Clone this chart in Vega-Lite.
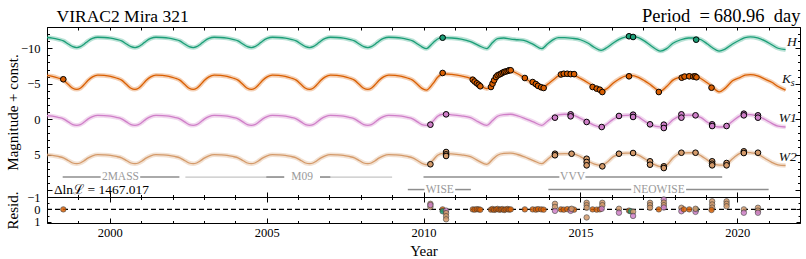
{
  "$schema": "https://vega.github.io/schema/vega-lite/v6.json",
  "padding": {"left": 4, "top": 5, "right": 7, "bottom": 5},
  "bounds": "flush",
  "spacing": 0,
  "config": {
    "font": "Liberation Serif",
    "view": {"stroke": "black", "strokeWidth": 1},
    "axis": {"domain": false, "grid": false, "tickColor": "black", "labelColor": "black", "titleColor": "black", "labelFont": "Liberation Serif", "titleFont": "Liberation Serif", "labelFontSize": 12.5, "titleFontSize": 15, "titleFontWeight": "normal", "tickWidth": 1, "labelOverlap": false},
    "text": {"font": "Liberation Serif"}
  },
  "datasets": {
    "curve": [
      {"t":1998.0,"H":-11.52,"Ks":-6.16,"W1":-0.49,"W2":5.06},
      {"t":1998.171,"H":-11.43,"Ks":-6.04,"W1":-0.41,"W2":5.13},
      {"t":1998.356,"H":-11.26,"Ks":-5.8,"W1":-0.24,"W2":5.28},
      {"t":1998.523,"H":-11.04,"Ks":-5.5,"W1":-0.03,"W2":5.47},
      {"t":1998.69,"H":-10.56,"Ks":-4.84,"W1":0.43,"W2":5.89},
      {"t":1998.82,"H":-10.22,"Ks":-4.36,"W1":0.77,"W2":6.2},
      {"t":1998.95,"H":-10.1,"Ks":-4.2,"W1":0.88,"W2":6.3},
      {"t":1999.061,"H":-10.22,"Ks":-4.36,"W1":0.77,"W2":6.2},
      {"t":1999.173,"H":-10.54,"Ks":-4.8,"W1":0.46,"W2":5.92},
      {"t":1999.302,"H":-11.0,"Ks":-5.44,"W1":0.01,"W2":5.51},
      {"t":1999.451,"H":-11.38,"Ks":-5.96,"W1":-0.35,"W2":5.18},
      {"t":1999.618,"H":-11.55,"Ks":-6.2,"W1":-0.52,"W2":5.03},
      {"t":1999.822,"H":-11.52,"Ks":-6.16,"W1":-0.49,"W2":5.06},
      {"t":2000.026,"H":-11.43,"Ks":-6.04,"W1":-0.41,"W2":5.13},
      {"t":2000.211,"H":-11.26,"Ks":-5.8,"W1":-0.24,"W2":5.28},
      {"t":2000.378,"H":-11.04,"Ks":-5.5,"W1":-0.03,"W2":5.47},
      {"t":2000.545,"H":-10.56,"Ks":-4.84,"W1":0.43,"W2":5.89},
      {"t":2000.675,"H":-10.22,"Ks":-4.36,"W1":0.77,"W2":6.2},
      {"t":2000.805,"H":-10.1,"Ks":-4.2,"W1":0.88,"W2":6.3},
      {"t":2000.916,"H":-10.22,"Ks":-4.36,"W1":0.77,"W2":6.2},
      {"t":2001.028,"H":-10.54,"Ks":-4.8,"W1":0.46,"W2":5.92},
      {"t":2001.157,"H":-11.0,"Ks":-5.44,"W1":0.01,"W2":5.51},
      {"t":2001.306,"H":-11.38,"Ks":-5.96,"W1":-0.35,"W2":5.18},
      {"t":2001.473,"H":-11.55,"Ks":-6.2,"W1":-0.52,"W2":5.03},
      {"t":2001.677,"H":-11.52,"Ks":-6.16,"W1":-0.49,"W2":5.06},
      {"t":2001.881,"H":-11.43,"Ks":-6.04,"W1":-0.41,"W2":5.13},
      {"t":2002.066,"H":-11.26,"Ks":-5.8,"W1":-0.24,"W2":5.28},
      {"t":2002.233,"H":-11.04,"Ks":-5.5,"W1":-0.03,"W2":5.47},
      {"t":2002.4,"H":-10.56,"Ks":-4.84,"W1":0.43,"W2":5.89},
      {"t":2002.53,"H":-10.22,"Ks":-4.36,"W1":0.77,"W2":6.2},
      {"t":2002.66,"H":-10.1,"Ks":-4.2,"W1":0.88,"W2":6.3},
      {"t":2002.771,"H":-10.22,"Ks":-4.36,"W1":0.77,"W2":6.2},
      {"t":2002.883,"H":-10.54,"Ks":-4.8,"W1":0.46,"W2":5.92},
      {"t":2003.012,"H":-11.0,"Ks":-5.44,"W1":0.01,"W2":5.51},
      {"t":2003.161,"H":-11.38,"Ks":-5.96,"W1":-0.35,"W2":5.18},
      {"t":2003.328,"H":-11.55,"Ks":-6.2,"W1":-0.52,"W2":5.03},
      {"t":2003.532,"H":-11.52,"Ks":-6.16,"W1":-0.49,"W2":5.06},
      {"t":2003.736,"H":-11.43,"Ks":-6.04,"W1":-0.41,"W2":5.13},
      {"t":2003.921,"H":-11.26,"Ks":-5.8,"W1":-0.24,"W2":5.28},
      {"t":2004.088,"H":-11.04,"Ks":-5.5,"W1":-0.03,"W2":5.47},
      {"t":2004.255,"H":-10.56,"Ks":-4.84,"W1":0.43,"W2":5.89},
      {"t":2004.385,"H":-10.22,"Ks":-4.36,"W1":0.77,"W2":6.2},
      {"t":2004.515,"H":-10.1,"Ks":-4.2,"W1":0.88,"W2":6.3},
      {"t":2004.626,"H":-10.22,"Ks":-4.36,"W1":0.77,"W2":6.2},
      {"t":2004.738,"H":-10.54,"Ks":-4.8,"W1":0.46,"W2":5.92},
      {"t":2004.867,"H":-11.0,"Ks":-5.44,"W1":0.01,"W2":5.51},
      {"t":2005.016,"H":-11.38,"Ks":-5.96,"W1":-0.35,"W2":5.18},
      {"t":2005.183,"H":-11.55,"Ks":-6.2,"W1":-0.52,"W2":5.03},
      {"t":2005.387,"H":-11.52,"Ks":-6.16,"W1":-0.49,"W2":5.06},
      {"t":2005.591,"H":-11.43,"Ks":-6.04,"W1":-0.41,"W2":5.13},
      {"t":2005.776,"H":-11.26,"Ks":-5.8,"W1":-0.24,"W2":5.28},
      {"t":2005.943,"H":-11.04,"Ks":-5.5,"W1":-0.03,"W2":5.47},
      {"t":2006.11,"H":-10.56,"Ks":-4.84,"W1":0.43,"W2":5.89},
      {"t":2006.24,"H":-10.22,"Ks":-4.36,"W1":0.77,"W2":6.2},
      {"t":2006.37,"H":-10.1,"Ks":-4.2,"W1":0.88,"W2":6.3},
      {"t":2006.481,"H":-10.22,"Ks":-4.36,"W1":0.77,"W2":6.2},
      {"t":2006.593,"H":-10.54,"Ks":-4.8,"W1":0.46,"W2":5.92},
      {"t":2006.722,"H":-11.0,"Ks":-5.44,"W1":0.01,"W2":5.51},
      {"t":2006.871,"H":-11.38,"Ks":-5.96,"W1":-0.35,"W2":5.18},
      {"t":2007.038,"H":-11.55,"Ks":-6.2,"W1":-0.52,"W2":5.03},
      {"t":2007.242,"H":-11.52,"Ks":-6.16,"W1":-0.49,"W2":5.06},
      {"t":2007.446,"H":-11.43,"Ks":-6.04,"W1":-0.41,"W2":5.13},
      {"t":2007.631,"H":-11.26,"Ks":-5.8,"W1":-0.24,"W2":5.28},
      {"t":2007.798,"H":-11.04,"Ks":-5.5,"W1":-0.03,"W2":5.47},
      {"t":2007.965,"H":-10.56,"Ks":-4.84,"W1":0.43,"W2":5.89},
      {"t":2008.095,"H":-10.22,"Ks":-4.36,"W1":0.77,"W2":6.2},
      {"t":2008.225,"H":-10.1,"Ks":-4.2,"W1":0.88,"W2":6.3},
      {"t":2008.336,"H":-10.22,"Ks":-4.36,"W1":0.77,"W2":6.2},
      {"t":2008.448,"H":-10.54,"Ks":-4.8,"W1":0.46,"W2":5.92},
      {"t":2008.577,"H":-11.0,"Ks":-5.44,"W1":0.01,"W2":5.51},
      {"t":2008.726,"H":-11.38,"Ks":-5.96,"W1":-0.35,"W2":5.18},
      {"t":2008.893,"H":-11.55,"Ks":-6.2,"W1":-0.52,"W2":5.03},
      {"t":2009.097,"H":-11.52,"Ks":-6.16,"W1":-0.49,"W2":5.06},
      {"t":2009.301,"H":-11.43,"Ks":-6.04,"W1":-0.41,"W2":5.13},
      {"t":2009.486,"H":-11.26,"Ks":-5.8,"W1":-0.24,"W2":5.28},
      {"t":2009.653,"H":-11.04,"Ks":-5.5,"W1":-0.03,"W2":5.47},
      {"t":2009.82,"H":-10.56,"Ks":-4.84,"W1":0.43,"W2":5.89},
      {"t":2009.95,"H":-10.2,"Ks":-4.34,"W1":0.77,"W2":6.25},
      {"t":2010.09,"H":-9.95,"Ks":-4.1,"W1":0.88,"W2":6.45},
      {"t":2010.3,"H":-10.75,"Ks":-5.0,"W1":0.3,"W2":5.8},
      {"t":2010.45,"H":-11.3,"Ks":-5.9,"W1":-0.4,"W2":5.1},
      {"t":2010.62,"H":-11.5,"Ks":-6.4,"W1":-0.68,"W2":4.85},
      {"t":2010.9,"H":-11.45,"Ks":-6.3,"W1":-0.6,"W2":4.9},
      {"t":2011.2,"H":-11.3,"Ks":-6.1,"W1":-0.45,"W2":5.05},
      {"t":2011.5,"H":-10.95,"Ks":-5.75,"W1":-0.2,"W2":5.3},
      {"t":2011.75,"H":-10.4,"Ks":-5.0,"W1":0.4,"W2":5.9},
      {"t":2012.02,"H":-9.95,"Ks":-4.3,"W1":0.88,"W2":6.4},
      {"t":2012.2,"H":-10.8,"Ks":-4.9,"W1":0.2,"W2":5.7},
      {"t":2012.36,"H":-11.35,"Ks":-5.95,"W1":-0.4,"W2":5.1},
      {"t":2012.56,"H":-11.45,"Ks":-6.5,"W1":-0.62,"W2":4.85},
      {"t":2012.78,"H":-11.3,"Ks":-6.8,"W1":-0.68,"W2":4.8},
      {"t":2013.0,"H":-11.2,"Ks":-6.4,"W1":-0.45,"W2":5.0},
      {"t":2013.2,"H":-11.1,"Ks":-5.85,"W1":-0.15,"W2":5.3},
      {"t":2013.5,"H":-10.55,"Ks":-5.0,"W1":0.4,"W2":5.85},
      {"t":2013.77,"H":-9.95,"Ks":-4.3,"W1":0.88,"W2":6.3},
      {"t":2013.95,"H":-10.6,"Ks":-4.9,"W1":0.3,"W2":5.7},
      {"t":2014.15,"H":-11.25,"Ks":-5.6,"W1":-0.35,"W2":5.05},
      {"t":2014.3,"H":-11.5,"Ks":-6.1,"W1":-0.6,"W2":4.9},
      {"t":2014.5,"H":-11.5,"Ks":-6.3,"W1":-0.68,"W2":4.88},
      {"t":2014.75,"H":-11.4,"Ks":-6.25,"W1":-0.6,"W2":4.9},
      {"t":2015.0,"H":-11.2,"Ks":-5.75,"W1":-0.1,"W2":5.3},
      {"t":2015.25,"H":-10.7,"Ks":-5.1,"W1":0.45,"W2":5.95},
      {"t":2015.45,"H":-10.1,"Ks":-4.5,"W1":0.9,"W2":6.35},
      {"t":2015.66,"H":-9.7,"Ks":-3.96,"W1":1.12,"W2":6.55},
      {"t":2015.85,"H":-10.1,"Ks":-4.3,"W1":0.7,"W2":6.1},
      {"t":2016.05,"H":-10.75,"Ks":-5.1,"W1":0.0,"W2":5.3},
      {"t":2016.25,"H":-11.3,"Ks":-5.7,"W1":-0.4,"W2":4.95},
      {"t":2016.45,"H":-11.6,"Ks":-6.1,"W1":-0.53,"W2":4.82},
      {"t":2016.62,"H":-11.69,"Ks":-6.18,"W1":-0.55,"W2":4.8},
      {"t":2016.85,"H":-11.5,"Ks":-5.9,"W1":-0.3,"W2":5.1},
      {"t":2017.05,"H":-11.0,"Ks":-5.4,"W1":0.3,"W2":5.6},
      {"t":2017.25,"H":-10.35,"Ks":-4.8,"W1":0.8,"W2":6.15},
      {"t":2017.55,"H":-9.6,"Ks":-3.96,"W1":1.1,"W2":6.7},
      {"t":2017.75,"H":-9.95,"Ks":-4.6,"W1":0.9,"W2":6.5},
      {"t":2017.95,"H":-10.7,"Ks":-5.5,"W1":0.1,"W2":5.5},
      {"t":2018.2,"H":-11.2,"Ks":-5.95,"W1":-0.45,"W2":4.8},
      {"t":2018.45,"H":-11.45,"Ks":-6.18,"W1":-0.55,"W2":4.75},
      {"t":2018.62,"H":-11.45,"Ks":-6.15,"W1":-0.53,"W2":4.75},
      {"t":2018.85,"H":-11.2,"Ks":-5.7,"W1":-0.2,"W2":5.2},
      {"t":2019.05,"H":-10.6,"Ks":-5.1,"W1":0.45,"W2":5.8},
      {"t":2019.2,"H":-10.1,"Ks":-4.6,"W1":0.85,"W2":6.2},
      {"t":2019.42,"H":-9.6,"Ks":-3.85,"W1":1.12,"W2":6.5},
      {"t":2019.6,"H":-9.85,"Ks":-4.3,"W1":1.05,"W2":6.5},
      {"t":2019.85,"H":-10.6,"Ks":-5.4,"W1":0.3,"W2":5.6},
      {"t":2020.1,"H":-11.2,"Ks":-5.9,"W1":-0.5,"W2":4.8},
      {"t":2020.25,"H":-11.5,"Ks":-6.2,"W1":-0.65,"W2":4.7},
      {"t":2020.42,"H":-11.6,"Ks":-6.27,"W1":-0.62,"W2":4.75},
      {"t":2020.65,"H":-11.45,"Ks":-6.1,"W1":-0.4,"W2":4.95},
      {"t":2020.9,"H":-11.0,"Ks":-5.6,"W1":0.1,"W2":5.6},
      {"t":2021.1,"H":-10.5,"Ks":-5.2,"W1":0.6,"W2":6.1},
      {"t":2021.3,"H":-10.0,"Ks":-4.6,"W1":1.0,"W2":6.45},
      {"t":2021.54,"H":-9.8,"Ks":-4.1,"W1":1.12,"W2":6.55}
    ],
    "obs": [
      {"band":"Ks","t":1998.52,"mag":-5.62},
      {"band":"Ks","t":2010.61,"mag":-6.51},
      {"band":"Ks","t":2011.57,"mag":-5.56},{"band":"Ks","t":2011.63,"mag":-5.3},{"band":"Ks","t":2011.7,"mag":-5.05},{"band":"Ks","t":2011.76,"mag":-4.85},{"band":"Ks","t":2011.81,"mag":-4.63},
      {"band":"Ks","t":2012.15,"mag":-4.53},{"band":"Ks","t":2012.2,"mag":-5.0},{"band":"Ks","t":2012.25,"mag":-5.47},{"band":"Ks","t":2012.31,"mag":-5.94},{"band":"Ks","t":2012.36,"mag":-6.18},{"band":"Ks","t":2012.42,"mag":-6.3},{"band":"Ks","t":2012.47,"mag":-6.41},{"band":"Ks","t":2012.52,"mag":-6.55},{"band":"Ks","t":2012.57,"mag":-6.65},{"band":"Ks","t":2012.62,"mag":-6.72},{"band":"Ks","t":2012.68,"mag":-6.79},{"band":"Ks","t":2012.73,"mag":-6.89},{"band":"Ks","t":2012.78,"mag":-6.89},
      {"band":"Ks","t":2013.23,"mag":-5.8},
      {"band":"Ks","t":2013.48,"mag":-5.23},{"band":"Ks","t":2013.58,"mag":-4.95},{"band":"Ks","t":2013.65,"mag":-4.7},{"band":"Ks","t":2013.75,"mag":-4.5},{"band":"Ks","t":2013.83,"mag":-4.39},
      {"band":"Ks","t":2014.38,"mag":-6.3},{"band":"Ks","t":2014.47,"mag":-6.4},{"band":"Ks","t":2014.58,"mag":-6.4},{"band":"Ks","t":2014.69,"mag":-6.35},{"band":"Ks","t":2014.8,"mag":-6.35},
      {"band":"Ks","t":2015.39,"mag":-4.53},{"band":"Ks","t":2015.52,"mag":-4.3},{"band":"Ks","t":2015.62,"mag":-4.15},{"band":"Ks","t":2015.7,"mag":-3.82},
      {"band":"Ks","t":2016.55,"mag":-6.04},
      {"band":"Ks","t":2017.5,"mag":-3.82},
      {"band":"Ks","t":2018.23,"mag":-5.84},{"band":"Ks","t":2018.32,"mag":-6.0},{"band":"Ks","t":2018.47,"mag":-6.04},{"band":"Ks","t":2018.6,"mag":-6.0},{"band":"Ks","t":2018.66,"mag":-6.04},{"band":"Ks","t":2018.7,"mag":-5.9},
      {"band":"Ks","t":2019.18,"mag":-4.43},
      {"band":"H","t":2010.61,"mag":-11.49},{"band":"H","t":2016.55,"mag":-11.69},{"band":"H","t":2016.68,"mag":-11.59},{"band":"H","t":2018.69,"mag":-11.21},
      {"band":"W1","t":2010.22,"mag":0.79},{"band":"W1","t":2010.72,"mag":-0.67},{"band":"W1","t":2014.19,"mag":-0.2},{"band":"W1","t":2014.69,"mag":-0.67},{"band":"W1","t":2014.69,"mag":-0.39},{"band":"W1","t":2015.2,"mag":0.41},{"band":"W1","t":2015.68,"mag":1.12},{"band":"W1","t":2016.23,"mag":-0.44},{"band":"W1","t":2016.68,"mag":-0.62},{"band":"W1","t":2016.68,"mag":-0.3},{"band":"W1","t":2017.22,"mag":0.74},{"band":"W1","t":2017.66,"mag":0.79},{"band":"W1","t":2017.66,"mag":1.26},{"band":"W1","t":2018.22,"mag":-0.67},{"band":"W1","t":2018.22,"mag":-0.2},{"band":"W1","t":2018.67,"mag":-0.53},{"band":"W1","t":2019.2,"mag":0.74},{"band":"W1","t":2019.2,"mag":0.98},{"band":"W1","t":2019.66,"mag":0.98},{"band":"W1","t":2020.21,"mag":-0.76},{"band":"W1","t":2020.21,"mag":-0.53},{"band":"W1","t":2020.66,"mag":-0.53},{"band":"W1","t":2020.66,"mag":-0.2},
      {"band":"W2","t":2010.22,"mag":6.38},{"band":"W2","t":2010.72,"mag":4.65},{"band":"W2","t":2010.72,"mag":4.98},{"band":"W2","t":2010.72,"mag":5.21},{"band":"W2","t":2014.19,"mag":4.89},{"band":"W2","t":2014.19,"mag":5.11},{"band":"W2","t":2014.72,"mag":4.89},{"band":"W2","t":2015.2,"mag":5.6},{"band":"W2","t":2015.2,"mag":6.06},{"band":"W2","t":2015.2,"mag":6.53},{"band":"W2","t":2015.7,"mag":6.67},{"band":"W2","t":2016.23,"mag":4.89},{"band":"W2","t":2016.68,"mag":4.79},{"band":"W2","t":2017.22,"mag":5.96},{"band":"W2","t":2017.22,"mag":6.44},{"band":"W2","t":2017.66,"mag":6.67},{"band":"W2","t":2017.66,"mag":6.91},{"band":"W2","t":2018.22,"mag":4.75},{"band":"W2","t":2018.67,"mag":4.75},{"band":"W2","t":2019.2,"mag":5.96},{"band":"W2","t":2019.2,"mag":6.3},{"band":"W2","t":2019.2,"mag":6.53},{"band":"W2","t":2019.66,"mag":6.2},{"band":"W2","t":2019.66,"mag":6.53},{"band":"W2","t":2020.21,"mag":4.55},{"band":"W2","t":2020.21,"mag":4.79},{"band":"W2","t":2020.66,"mag":4.75}
    ],
    "resid": [
      {"band":"Ks","t":1998.52,"r":0.0},
      {"band":"W2","t":2010.22,"r":-0.45},{"band":"W2","t":2010.22,"r":-0.2},{"band":"W1","t":2010.22,"r":-0.35},
      {"band":"Ks","t":2010.61,"r":0.0},{"band":"H","t":2010.61,"r":0.15},
      {"band":"W1","t":2010.72,"r":0.1},{"band":"W2","t":2010.72,"r":0.3},{"band":"W2","t":2010.72,"r":0.55},{"band":"W2","t":2010.72,"r":0.8},
      {"band":"Ks","t":2011.57,"r":0.0},{"band":"Ks","t":2011.63,"r":0.02},{"band":"Ks","t":2011.7,"r":-0.02},{"band":"Ks","t":2011.76,"r":0.0},{"band":"Ks","t":2011.81,"r":0.03},
      {"band":"Ks","t":2012.15,"r":0.02},{"band":"Ks","t":2012.2,"r":-0.03},{"band":"Ks","t":2012.25,"r":0.04},{"band":"Ks","t":2012.31,"r":0.0},{"band":"Ks","t":2012.36,"r":-0.04},{"band":"Ks","t":2012.42,"r":0.03},{"band":"Ks","t":2012.47,"r":0.0},{"band":"Ks","t":2012.52,"r":-0.02},{"band":"Ks","t":2012.57,"r":0.05},{"band":"Ks","t":2012.62,"r":0.0},{"band":"Ks","t":2012.68,"r":-0.03},{"band":"Ks","t":2012.73,"r":0.02},{"band":"Ks","t":2012.78,"r":0.0},
      {"band":"Ks","t":2013.23,"r":0.0},
      {"band":"Ks","t":2013.48,"r":0.0},{"band":"Ks","t":2013.58,"r":0.02},{"band":"Ks","t":2013.65,"r":-0.02},{"band":"Ks","t":2013.75,"r":0.0},{"band":"Ks","t":2013.83,"r":0.02},
      {"band":"W2","t":2014.19,"r":-0.45},{"band":"W2","t":2014.19,"r":-0.2},{"band":"W1","t":2014.19,"r":0.12},
      {"band":"Ks","t":2014.38,"r":0.0},{"band":"Ks","t":2014.47,"r":0.02},{"band":"Ks","t":2014.58,"r":-0.02},{"band":"Ks","t":2014.69,"r":0.0},{"band":"Ks","t":2014.8,"r":0.02},
      {"band":"W1","t":2014.69,"r":0.12},{"band":"W2","t":2014.72,"r":-0.05},
      {"band":"W2","t":2015.2,"r":-0.53},{"band":"W2","t":2015.2,"r":-0.34},{"band":"W2","t":2015.2,"r":-0.13},{"band":"W2","t":2015.2,"r":0.65},
      {"band":"Ks","t":2015.39,"r":0.0},{"band":"Ks","t":2015.52,"r":0.02},{"band":"Ks","t":2015.62,"r":0.0},
      {"band":"W2","t":2015.7,"r":-0.53},{"band":"W2","t":2015.7,"r":-0.34},{"band":"W1","t":2015.68,"r":-0.05},
      {"band":"W2","t":2016.23,"r":-0.05},{"band":"W1","t":2016.23,"r":0.27},
      {"band":"Ks","t":2016.55,"r":0.1},{"band":"H","t":2016.6,"r":0.15},{"band":"W2","t":2016.68,"r":0.2},{"band":"W1","t":2016.68,"r":0.53},
      {"band":"W2","t":2017.22,"r":-0.53},{"band":"W2","t":2017.22,"r":-0.34},{"band":"W2","t":2017.22,"r":-0.13},
      {"band":"Ks","t":2017.5,"r":0.0},
      {"band":"W1","t":2017.66,"r":-0.8},{"band":"W2","t":2017.66,"r":-0.55},{"band":"W2","t":2017.66,"r":-0.34},{"band":"W1","t":2017.66,"r":-0.15},
      {"band":"W2","t":2018.22,"r":-0.13},{"band":"W1","t":2018.22,"r":0.15},{"band":"Ks","t":2018.3,"r":0.0},{"band":"Ks","t":2018.47,"r":0.0},
      {"band":"H","t":2018.69,"r":0.02},{"band":"W1","t":2018.67,"r":0.2},{"band":"W2","t":2018.67,"r":-0.05},
      {"band":"W2","t":2019.2,"r":-0.65},{"band":"W2","t":2019.2,"r":-0.4},{"band":"W2","t":2019.2,"r":-0.15},{"band":"Ks","t":2019.18,"r":0.05},
      {"band":"W2","t":2019.66,"r":-0.65},{"band":"W2","t":2019.66,"r":-0.45},{"band":"W2","t":2019.66,"r":-0.25},
      {"band":"W2","t":2020.21,"r":0.0},{"band":"W1","t":2020.21,"r":0.27},
      {"band":"W2","t":2020.66,"r":-0.13},{"band":"W2","t":2020.66,"r":0.1},{"band":"W1","t":2020.66,"r":0.27}
    ],
    "zero": [{"a":1998,"b":2022,"r0":0}],
    "segs": [
      {"s":1998.5,"e":1999.71,"lev":8.18},{"s":2000.97,"e":2002.22,"lev":8.18},
      {"s":2004.99,"e":2005.56,"lev":8.18},{"s":2006.7,"e":2007.03,"lev":8.18},
      {"s":2010.0,"e":2014.33,"lev":8.18},{"s":2015.16,"e":2019.52,"lev":8.18},
      {"s":2009.5,"e":2010.03,"lev":9.95},{"s":2011.01,"e":2011.51,"lev":9.95},
      {"s":2013.98,"e":2016.62,"lev":9.95},{"s":2018.37,"e":2021.0,"lev":9.95}
    ],
    "faint": [
      {"s":2002.41,"e":2005.56,"lev":8.18},{"s":2006.7,"e":2009.0,"lev":8.18}
    ],
    "slabels": [
      {"lab":"2MASS","t":2000.34,"lev":8.18},
      {"lab":"M09","t":2006.13,"lev":8.18},
      {"lab":"VVV","t":2014.75,"lev":8.18},
      {"lab":"WISE","t":2010.52,"lev":9.95},
      {"lab":"NEOWISE","t":2017.5,"lev":9.95}
    ],
    "blabels": [
      {"lab":"H","t":2021.74,"mag":-10.88},
      {"lab":"K","t":2021.57,"mag":-5.59},
      {"lab":"W1","t":2021.61,"mag":-0.15},
      {"lab":"W2","t":2021.61,"mag":5.31}
    ],
    "sub": [{"lab":"s","t":2021.77,"mag":-5.05}],
    "note": [{"lab":"Δlnℒ = 1467.017","t":1998.22,"mag":9.98}]
  },
  "vconcat": [
    {
      "width": 753,
      "height": 170,
      "resolve": {"axis": {"x": "independent", "y": "independent"}},
      "layer": [
        {
          "data": {"name": "curve"},
          "transform": [{"fold": ["H", "Ks", "W1", "W2"], "as": ["band", "mag"]}],
          "mark": {"type": "line", "strokeWidth": 4.5, "opacity": 0.3, "interpolate": "monotone"},
          "encoding": {
            "x": {"field": "t", "type": "quantitative", "scale": {"domain": [1998, 2022], "nice": false, "zero": false},
              "axis": {"orient": "bottom", "values": [1998,1999,2000,2001,2002,2003,2004,2005,2006,2007,2008,2009,2010,2011,2012,2013,2014,2015,2016,2017,2018,2019,2020,2021,2022], "labels": false, "title": null,
                "tickSize": {"condition": {"test": "datum.value % 5 === 0", "value": -5}, "value": -2.5}}},
            "y": {"field": "mag", "type": "quantitative", "scale": {"domain": [-13, 11], "reverse": true, "nice": false, "zero": false},
              "axis": {"orient": "left", "values": [-13,-12,-11,-10,-9,-8,-7,-6,-5,-4,-3,-2,-1,0,1,2,3,4,5,6,7,8,9,10,11],
                "labelExpr": "datum.value % 5 === 0 && datum.value < 10 ? format(datum.value, 'd') : ''",
                "tickSize": {"condition": {"test": "datum.value % 5 === 0", "value": -5}, "value": -2.5},
                "labelPadding": 12, "title": "Magnitude + const.", "titleX": -27, "titleFontSize": 15}},
            "color": {"field": "band", "type": "nominal", "scale": {"domain": ["H", "Ks", "W1", "W2"], "range": ["#1b9e77", "#d95f02", "#cf7fc8", "#d49a6a"]}, "legend": null}
          }
        },
        {
          "data": {"name": "curve"},
          "transform": [{"fold": ["H", "Ks", "W1", "W2"], "as": ["band", "mag"]}],
          "mark": {"type": "line", "strokeWidth": 1.3, "interpolate": "monotone"},
          "encoding": {
            "x": {"field": "t", "type": "quantitative", "scale": {"domain": [1998, 2022], "nice": false, "zero": false},
              "axis": {"orient": "top", "values": [1998,1999,2000,2001,2002,2003,2004,2005,2006,2007,2008,2009,2010,2011,2012,2013,2014,2015,2016,2017,2018,2019,2020,2021,2022], "labels": false, "tickSize": -3,
                "title": "VIRAC2 Mira 321", "titleX": 9, "titleY": -6, "titleAlign": "left", "titleAnchor": "start", "titleBaseline": "alphabetic", "titleFontSize": 17.5}},
            "y": {"field": "mag", "type": "quantitative", "scale": {"domain": [-13, 11], "reverse": true, "nice": false, "zero": false},
              "axis": {"orient": "right", "values": [-13,-12,-11,-10,-9,-8,-7,-6,-5,-4,-3,-2,-1,0,1,2,3,4,5,6,7,8,9,10,11], "labels": false, "title": null,
                "tickSize": {"condition": {"test": "datum.value % 5 === 0", "value": -5}, "value": -2.5}}},
            "color": {"field": "band", "type": "nominal", "scale": {"domain": ["H", "Ks", "W1", "W2"], "range": ["#1b9e77", "#d95f02", "#cf7fc8", "#d49a6a"]}, "legend": null}
          }
        },
        {
          "data": {"name": "faint"},
          "mark": {"type": "rule", "color": "#c4c4c4", "strokeWidth": 1.3},
          "encoding": {
            "x": {"field": "s", "type": "quantitative", "axis": null},
            "x2": {"field": "e"},
            "y": {"field": "lev", "type": "quantitative", "axis": null}
          }
        },
        {
          "data": {"name": "segs"},
          "mark": {"type": "rule", "color": "#8e8e8e", "strokeWidth": 1.5},
          "encoding": {
            "x": {"field": "s", "type": "quantitative", "axis": null},
            "x2": {"field": "e"},
            "y": {"field": "lev", "type": "quantitative", "axis": null}
          }
        },
        {
          "data": {"name": "slabels"},
          "mark": {"type": "text", "color": "#9a9a9a", "fontSize": 11.5, "baseline": "middle", "align": "center"},
          "encoding": {
            "x": {"field": "t", "type": "quantitative", "axis": null},
            "y": {"field": "lev", "type": "quantitative", "axis": null},
            "text": {"field": "lab"}
          }
        },
        {
          "data": {"name": "obs"},
          "mark": {"type": "point", "shape": "circle", "filled": true, "size": 32, "stroke": "black", "strokeWidth": 1, "opacity": 1},
          "encoding": {
            "x": {"field": "t", "type": "quantitative",
              "axis": {"orient": "top", "ticks": false, "labels": false, "title": "Period\u2002=\u2009680.96\u2002day", "titleX": 753, "titleY": -6, "titleAlign": "right", "titleBaseline": "alphabetic", "titleFontSize": 18.5}},
            "y": {"field": "mag", "type": "quantitative", "axis": null},
            "fill": {"field": "band", "type": "nominal", "scale": {"domain": ["H", "Ks", "W1", "W2"], "range": ["#1b9e77", "#d95f02", "#cf7fc8", "#d49a6a"]}, "legend": null}
          }
        },
        {
          "data": {"name": "blabels"},
          "mark": {"type": "text", "fontSize": 13.5, "fontStyle": "italic", "baseline": "middle", "align": "center", "color": "#111"},
          "encoding": {
            "x": {"field": "t", "type": "quantitative", "axis": null},
            "y": {"field": "mag", "type": "quantitative", "axis": null},
            "text": {"field": "lab"}
          }
        },
        {
          "data": {"name": "sub"},
          "mark": {"type": "text", "fontSize": 10, "fontStyle": "italic", "baseline": "middle", "align": "center", "color": "#111"},
          "encoding": {
            "x": {"field": "t", "type": "quantitative", "axis": null},
            "y": {"field": "mag", "type": "quantitative", "axis": null},
            "text": {"field": "lab"}
          }
        },
        {
          "data": {"name": "note"},
          "mark": {"type": "text", "fontSize": 13.5, "baseline": "middle", "align": "left", "color": "black"},
          "encoding": {
            "x": {"field": "t", "type": "quantitative", "axis": null},
            "y": {"field": "mag", "type": "quantitative", "axis": null},
            "text": {"field": "lab"}
          }
        }
      ]
    },
    {
      "width": 753,
      "height": 26,
      "resolve": {"axis": {"x": "independent", "y": "independent"}},
      "layer": [
        {
          "data": {"name": "zero"},
          "mark": {"type": "rule", "strokeDash": [5, 3], "strokeWidth": 1.3, "color": "black"},
          "encoding": {
            "x": {"field": "a", "type": "quantitative", "scale": {"domain": [1998, 2022], "nice": false, "zero": false},
              "axis": {"orient": "top", "values": [1998,1999,2000,2001,2002,2003,2004,2005,2006,2007,2008,2009,2010,2011,2012,2013,2014,2015,2016,2017,2018,2019,2020,2021,2022], "labels": false, "title": null,
                "tickSize": {"condition": {"test": "datum.value % 5 === 0", "value": -5}, "value": -2.5}}},
            "x2": {"field": "b"},
            "y": {"field": "r0", "type": "quantitative", "scale": {"domain": [-1, 1.1], "reverse": true, "nice": false, "zero": false},
              "axis": {"orient": "right", "values": [-1, -0.5, 0, 0.5, 1], "labels": false, "title": null,
                "tickSize": {"condition": {"test": "datum.value % 1 === 0", "value": -4}, "value": -2}}}
          }
        },
        {
          "data": {"name": "resid"},
          "mark": {"type": "point", "shape": "circle", "filled": true, "size": 30, "stroke": "#3a3a3a", "strokeWidth": 0.7, "opacity": 0.85},
          "encoding": {
            "x": {"field": "t", "type": "quantitative", "scale": {"domain": [1998, 2022], "nice": false, "zero": false},
              "axis": {"orient": "bottom", "values": [1998,1999,2000,2001,2002,2003,2004,2005,2006,2007,2008,2009,2010,2011,2012,2013,2014,2015,2016,2017,2018,2019,2020,2021,2022],
                "labelExpr": "datum.value % 5 === 0 ? format(datum.value, 'd') : ''", "labelPadding": 8,
                "tickSize": {"condition": {"test": "datum.value % 5 === 0", "value": -5}, "value": -2.5},
                "title": "Year", "titlePadding": 2, "titleFontSize": 15}},
            "y": {"field": "r", "type": "quantitative", "scale": {"domain": [-1, 1.1], "reverse": true, "nice": false, "zero": false},
              "axis": {"orient": "left", "values": [-1, -0.5, 0, 0.5, 1], "labelExpr": "datum.value % 1 === 0 ? format(datum.value, 'd') : ''",
                "tickSize": {"condition": {"test": "datum.value % 1 === 0", "value": -4}, "value": -2}, "labelPadding": 11,
                "title": "Resid.", "titleX": -27, "titleFontSize": 15}},
            "fill": {"field": "band", "type": "nominal", "scale": {"domain": ["H", "Ks", "W1", "W2"], "range": ["#1b9e77", "#d95f02", "#cf7fc8", "#d49a6a"]}, "legend": null}
          }
        }
      ]
    }
  ]
}
